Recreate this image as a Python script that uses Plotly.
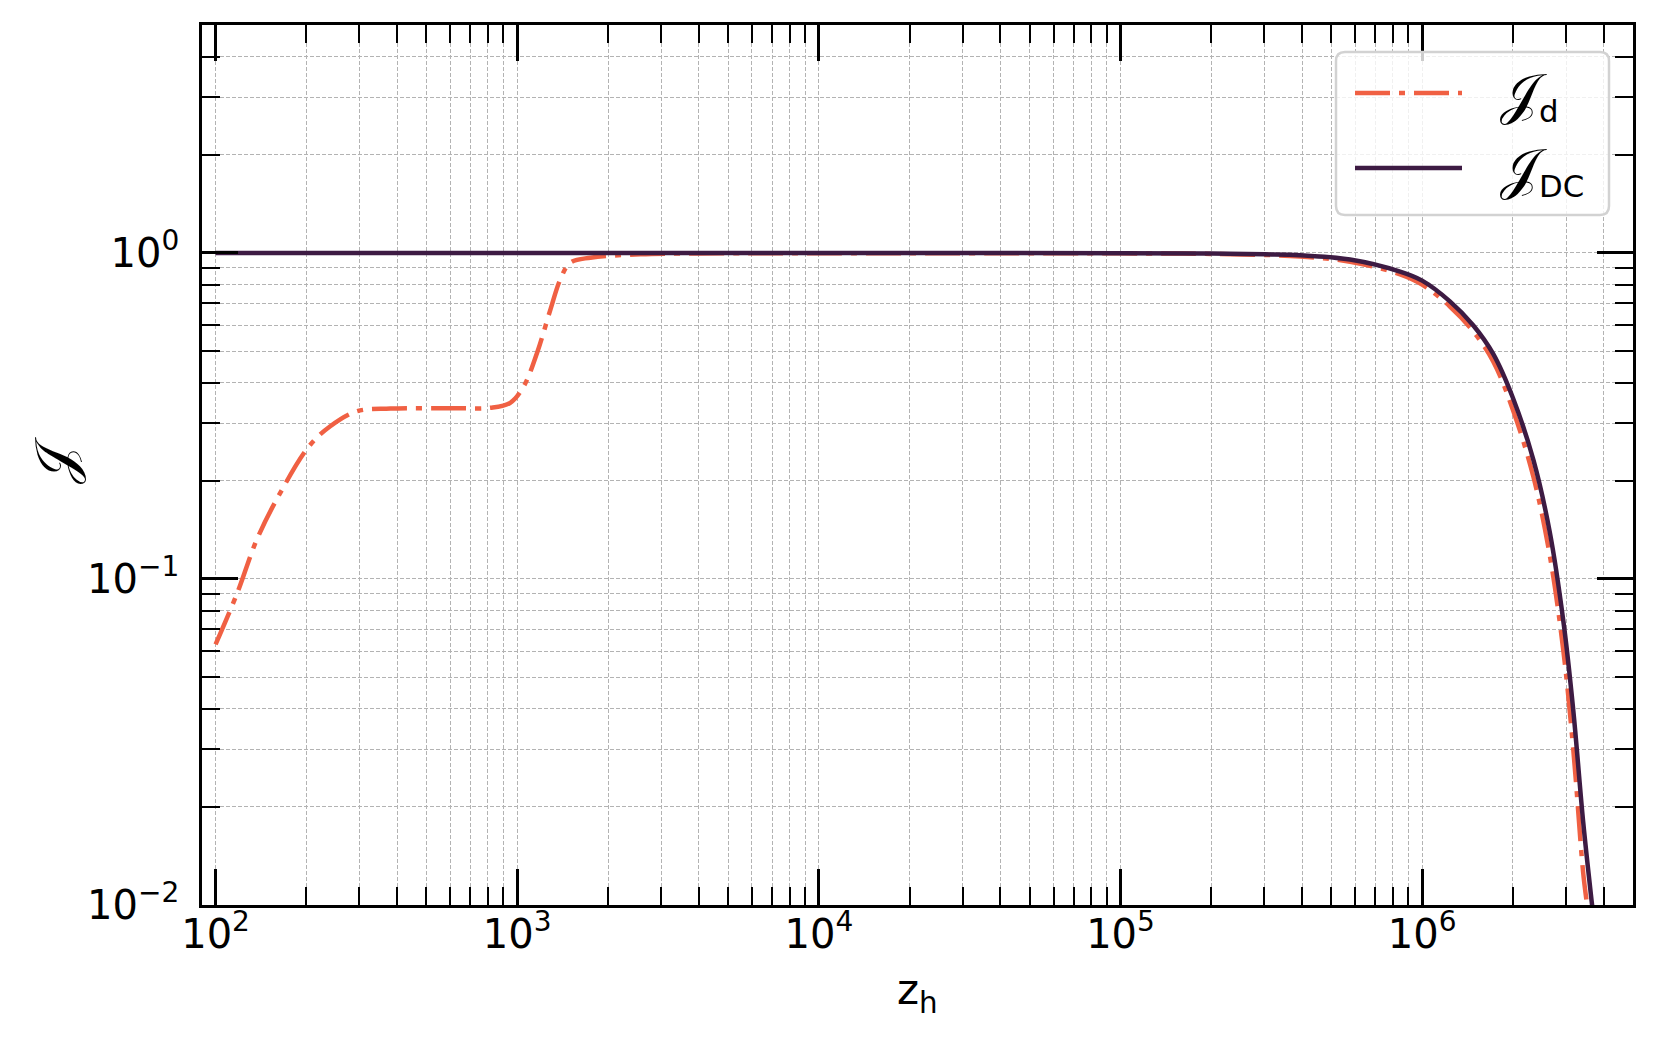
import plotly.graph_objects as go

# ---------------- data ----------------
z_d = [100, 118, 137, 164, 204, 240, 295, 380, 632, 815, 948, 1051, 1164, 1289,
       1390, 1500, 1749, 2560, 5000, 1e4, 1e5, 2e5, 3.94e5, 5.77e5, 8.45e5, 1e6,
       1.236e6, 1.476e6, 1.72e6, 2.0e6, 2.34e6, 2.65e6, 2.94e6, 3.17e6, 3.42e6,
       3.53e6, 3.62e6]
J_d = [0.063, 0.0906, 0.132, 0.184, 0.255, 0.294, 0.327, 0.333, 0.334, 0.335,
       0.347, 0.390, 0.494, 0.671, 0.830, 0.933, 0.967, 0.99, 0.997, 0.998,
       0.997, 0.993, 0.975, 0.94, 0.86, 0.80, 0.685, 0.575, 0.465, 0.33, 0.205,
       0.118, 0.060, 0.030, 0.0125, 0.0098, 0.0078]

z_dc = [100, 1e3, 1e4, 1e5, 2e5, 3e5, 3.94e5, 5.77e5, 8.45e5, 1e6, 1.236e6,
        1.476e6, 1.72e6, 2.0e6, 2.34e6, 2.65e6, 2.94e6, 3.17e6, 3.42e6, 3.65e6,
        3.75e6]
J_dc = [1.0, 1.0, 1.0, 0.998, 0.995, 0.99, 0.984, 0.954, 0.876, 0.822, 0.71,
        0.60, 0.49, 0.359, 0.231, 0.139, 0.074, 0.0395, 0.0179, 0.0102, 0.0082]

x_tickvals = [1e2, 1e3, 1e4, 1e5, 1e6]
x_ticktext = ["10<sup>2</sup>", "10<sup>3</sup>", "10<sup>4</sup>",
              "10<sup>5</sup>", "10<sup>6</sup>"]
y_tickvals = [1e-2, 1e-1, 1e0]
y_ticktext = ["10<sup>\u22122</sup>", "10<sup>\u22121</sup>", "10<sup>0</sup>"]

JCAL = "\U0001D4A5"
series_subs = ["d", "DC"]
series_names = [JCAL + "<sub>" + s + "</sub>" for s in series_subs]
series_colors = ["#f06043", "#3d1b43"]
x_title = "z<sub>h</sub>"
y_title = JCAL

x_minor = [m * 10 ** e for e in range(1, 7) for m in range(2, 10)]
y_minor = [m * 10 ** e for e in range(-2, 1) for m in range(2, 10)]

FONT = "DejaVu Sans"
DASHDOT = "35px,9px,6px,9px"
BIGJ = "<span style='font-size:56px'>" + JCAL + "</span>"

fig = go.Figure()
fig.add_trace(go.Scatter(x=z_d, y=J_d, mode="lines", name=series_names[0],
                         line=dict(color=series_colors[0], width=4.5, dash=DASHDOT,
                                   shape="spline", smoothing=1.0),
                         showlegend=False))
fig.add_trace(go.Scatter(x=z_dc, y=J_dc, mode="lines", name=series_names[1],
                         line=dict(color=series_colors[1], width=4.5,
                                   shape="spline", smoothing=1.0),
                         showlegend=False))

grid = dict(gridcolor="#b3b3b3", gridwidth=1.2, griddash="4px,2px")
common = dict(showline=True, linecolor="black", linewidth=2.5, mirror="ticks",
              ticks="inside", ticklen=36, tickwidth=2.5, tickcolor="black",
              showgrid=True, zeroline=False,
              tickfont=dict(family=FONT, size=40, color="black"), **grid)

fig.update_xaxes(type="log", range=[1.955, 6.699], tickmode="array",
                 tickvals=x_tickvals, ticktext=x_ticktext, ticklabelstandoff=-8,
                 minor=dict(tickmode="array", tickvals=x_minor, ticks="inside",
                            ticklen=18, tickwidth=2, tickcolor="black",
                            showgrid=True, **grid),
                 **common)
fig.update_yaxes(type="log", range=[-2, 0.699], tickmode="array",
                 tickvals=y_tickvals, ticktext=y_ticktext, ticklabelstandoff=12,
                 minor=dict(tickmode="array", tickvals=y_minor, ticks="inside",
                            ticklen=18, tickwidth=2, tickcolor="black",
                            showgrid=True, **grid),
                 **common)

# page pixel -> paper coordinates (plot area spans x 202..1633, y 25..905)
def px_x(p):
    return (p - 202) / 1431.0

def px_y(p):
    return (905 - p) / 880.0

# axis titles
fig.add_annotation(xref="paper", yref="paper", x=px_x(917), y=px_y(992),
                   xanchor="center", yanchor="middle", showarrow=False,
                   text=x_title, font=dict(family=FONT, size=42, color="black"))
fig.add_annotation(xref="paper", yref="paper", x=px_x(54), y=px_y(461),
                   xanchor="center", yanchor="middle", showarrow=False,
                   textangle=-90, text=y_title,
                   font=dict(family=FONT, size=56, color="black"))

# legend (box with line samples and labels)
x0, x1, y0, y1 = px_x(1336), px_x(1609), px_y(215), px_y(52)
rx, ry = 9 / 1431.0, 9 / 880.0
path = (f"M {x0+rx},{y0} L {x1-rx},{y0} Q {x1},{y0} {x1},{y0+ry} "
        f"L {x1},{y1-ry} Q {x1},{y1} {x1-rx},{y1} L {x0+rx},{y1} "
        f"Q {x0},{y1} {x0},{y1-ry} L {x0},{y0+ry} Q {x0},{y0} {x0+rx},{y0} Z")
fig.add_shape(type="path", path=path, xref="paper", yref="paper", layer="above",
              fillcolor="rgba(255,255,255,0.8)", line=dict(color="#d2d2d2", width=2.5))
for i, (yy, dash) in enumerate([(93, DASHDOT), (168, "solid")]):
    fig.add_shape(type="line", xref="paper", yref="paper", layer="above",
                  x0=px_x(1355), x1=px_x(1462), y0=px_y(yy), y1=px_y(yy),
                  line=dict(color=series_colors[i], width=4.5, dash=dash))
    fig.add_annotation(xref="paper", yref="paper", x=px_x(1498), y=px_y(yy + 2),
                       xanchor="left", yanchor="middle", showarrow=False,
                       text=BIGJ + "<sub>" + series_subs[i] + "</sub>",
                       font=dict(family=FONT, size=44, color="black"))

# the page adds an 8px body margin; margins are shifted to compensate
fig.update_layout(width=1660, height=1045,
                  margin=dict(l=194, r=35, t=17, b=148),
                  plot_bgcolor="white", paper_bgcolor="white",
                  font=dict(family=FONT, color="black"))

fig.write_html("out.html")
